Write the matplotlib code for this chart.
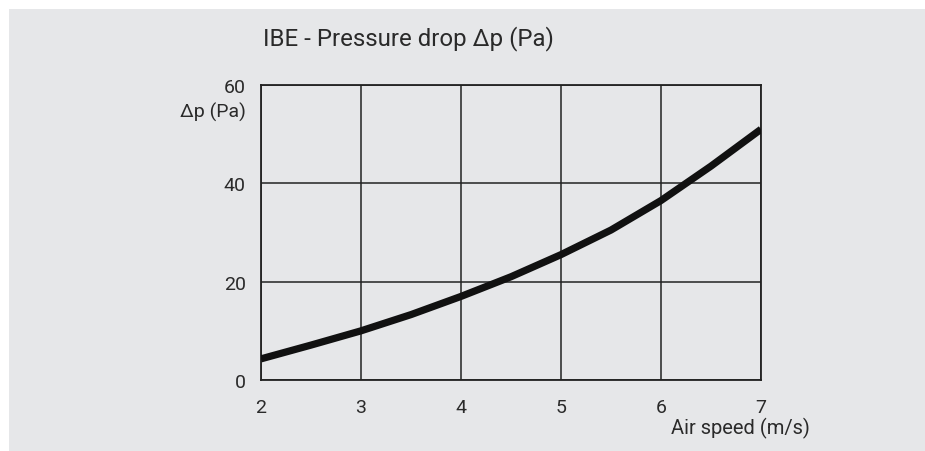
import matplotlib
matplotlib.use("Agg")
import matplotlib.pyplot as plt
from matplotlib.patches import Rectangle

speed = [2.0, 2.5, 3.0, 3.5, 4.0, 4.5, 5.0, 5.5, 6.0, 6.5, 7.0]
pressure = [4.3, 7.1, 10.0, 13.3, 17.0, 21.0, 25.5, 30.5, 36.5, 43.5, 51.0]
x_ticks = [2, 3, 4, 5, 6, 7]
y_ticks = [0, 20, 40, 60]

plt.rcParams['font.family'] = ['Roboto', 'DejaVu Sans']
W, H = 925, 452
fig = plt.figure(figsize=(W / 100, H / 100), dpi=100)
fig.patch.set_facecolor('white')
bg = '#e6e7e9'
fig.patches.append(Rectangle((9 / W, 0), 1 - 9 / W, 1 - 10 / H, transform=fig.transFigure,
                             facecolor=bg, edgecolor='none', zorder=-10))

l, r, t, b = 261, 761, 86, 381
ax = fig.add_axes([l / W, 1 - b / H, (r - l) / W, (b - t) / H])
ax.set_facecolor(bg)
txt = '#2a2a2a'
ax.plot(speed, pressure, color='#111111', lw=5.2, solid_capstyle='butt', zorder=3)
ax.set_xlim(2, 7)
ax.set_ylim(0, 60)
ax.set_xticks(x_ticks)
ax.set_yticks(y_ticks)
ax.grid(True, color='#222222', lw=1.1)
for s in ax.spines.values():
    s.set_color('#222222')
    s.set_linewidth(1.3)
ax.tick_params(length=0, pad=13, labelsize=14, colors=txt)
ax.tick_params(axis='y', pad=11)

fig.text(263 / W, 1 - 39 / H, 'IBE - Pressure drop Δp (Pa)', fontsize=17.3, color=txt,
         ha='left', va='center')
fig.text(246 / W, 1 - 112 / H, 'Δp (Pa)', fontsize=14, color=txt, ha='right', va='center')
fig.text(810 / W, 1 - 428 / H, 'Air speed (m/s)', fontsize=14.5, color=txt, ha='right', va='center')

fig.savefig('out.png', dpi=100, facecolor=fig.get_facecolor())
